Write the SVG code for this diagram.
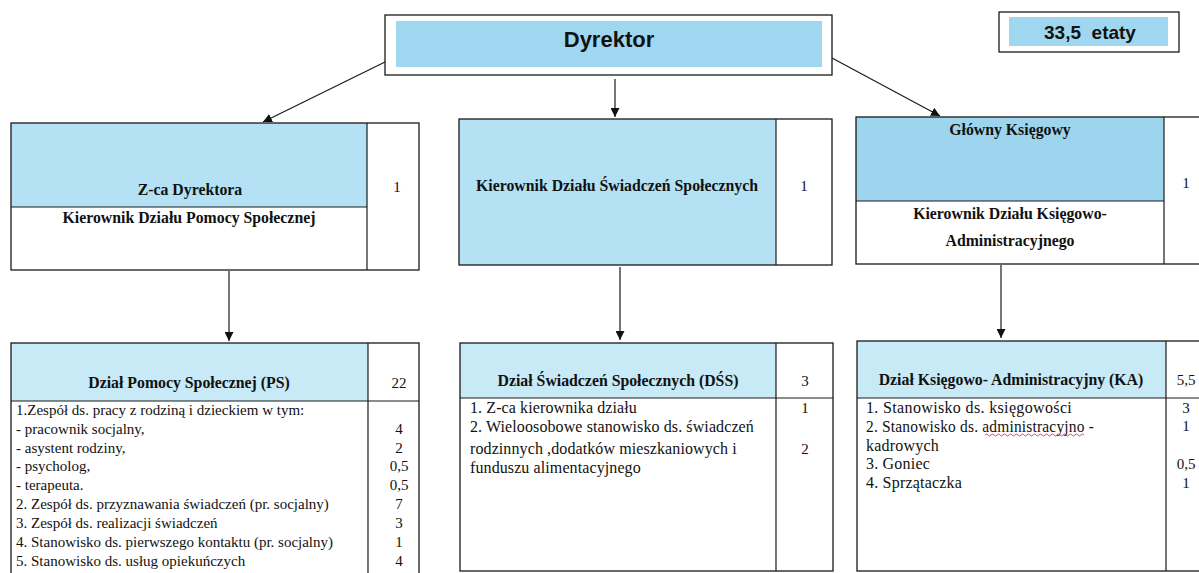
<svg xmlns="http://www.w3.org/2000/svg" width="1199" height="573" viewBox="0 0 1199 573">
<defs>
<style>
.bx{fill:none;stroke:#1a1a1a;stroke-width:1.3}
.ln{stroke:#1a1a1a;stroke-width:1.2;fill:none}
.b1{fill:#9fd7f0}
.b2{fill:#b4e1f4}
.b3{fill:#9dd5ef}
.b4{fill:#c8e9f6}
.t{font-family:"Liberation Serif",serif;font-size:15px;fill:#111}
.tl{font-size:15px}
.tm{font-size:16px;letter-spacing:0.1px}
.tr{font-size:16px;letter-spacing:0.2px}
.tb{font-family:"Liberation Serif",serif;font-size:15.8px;font-weight:bold;fill:#111}
.tc{text-anchor:middle}
.sans{font-family:"Liberation Sans",Arial,sans-serif;font-weight:bold;fill:#111}
.con{stroke:#1a1a1a;stroke-width:1.2;fill:none;marker-end:url(#ah)}
</style>
<marker id="ah" viewBox="0 0 10 10" refX="10" refY="5" markerWidth="9" markerHeight="9" markerUnits="userSpaceOnUse" orient="auto">
<path d="M0,0 L10,5 L0,10 Z" fill="#111"/>
</marker>
</defs>
<rect width="1199" height="573" fill="#fff"/>

<g id="connectors">
<line class="con" x1="385" y1="62" x2="263" y2="122"/>
<line class="con" x1="615" y1="79" x2="615" y2="117"/>
<line class="con" x1="832" y1="58" x2="940" y2="116"/>
<line class="con" x1="229" y1="271" x2="229" y2="341"/>
<line class="con" x1="620" y1="267" x2="620" y2="340"/>
<line class="con" x1="1001" y1="265" x2="1001" y2="338"/>
</g>

<g id="dyrektor">
<rect x="385" y="15" width="447" height="60" fill="#fff" class="bx"/>
<rect x="396" y="21" width="426" height="46" class="b1"/>
<text x="609" y="47" class="sans tc" font-size="22">Dyrektor</text>
</g>

<g id="etaty">
<rect x="999" y="12" width="180" height="40" fill="#fff" class="bx"/>
<rect x="1009" y="17" width="159" height="29" class="b1"/>
<text x="1090" y="39" class="sans tc" font-size="19" style="white-space:pre">33,5  etaty</text>
</g>

<g id="zca-dyrektora">
<rect x="11" y="123" width="356" height="84" class="b2"/>
<rect x="11" y="123" width="408" height="147" class="bx"/>
<line class="ln" x1="11" y1="207" x2="367" y2="207"/>
<line class="ln" x1="367" y1="123" x2="367" y2="270"/>
<text x="190" y="195" class="tb tc">Z-ca Dyrektora</text>
<text x="189" y="223" class="tb tc">Kierownik Działu Pomocy Społecznej</text>
<text x="397" y="192" class="t tc">1</text>
</g>

<g id="kierownik-dss">
<rect x="459" y="119" width="317" height="146" class="b2"/>
<rect x="459" y="119" width="373" height="146" class="bx"/>
<line class="ln" x1="776" y1="119" x2="776" y2="265"/>
<text x="617" y="191" class="tb tc">Kierownik Działu Świadczeń Społecznych</text>
<text x="804" y="191" class="t tc">1</text>
</g>

<g id="glowny-ksiegowy">
<rect x="856" y="117" width="308" height="84" class="b3"/>
<rect x="856" y="117" width="360" height="147" class="bx"/>
<line class="ln" x1="856" y1="201" x2="1164" y2="201"/>
<line class="ln" x1="1164" y1="117" x2="1164" y2="264"/>
<text x="1010" y="135" class="tb tc">Główny Księgowy</text>
<text x="1010" y="219" class="tb tc">Kierownik Działu Księgowo-</text>
<text x="1010" y="246" class="tb tc">Administracyjnego</text>
<text x="1186" y="188" class="t tc">1</text>
</g>

<g id="dzial-ps">
<rect x="11" y="343" width="357" height="58" class="b4"/>
<rect x="11" y="343" width="408" height="250" class="bx"/>
<line class="ln" x1="11" y1="401" x2="419" y2="401"/>
<line class="ln" x1="368" y1="343" x2="368" y2="573"/>
<text x="189" y="388" class="tb tc">Dział Pomocy Społecznej (PS)</text>
<text x="399" y="388" class="t tc">22</text>
<text class="t tl" x="16" y="415">1.Zespół ds. pracy z rodziną i dzieckiem w tym:</text>
<text class="t tl" x="16" y="434">- pracownik socjalny,</text>
<text class="t tl" x="16" y="453">- asystent rodziny,</text>
<text class="t tl" x="16" y="471">- psycholog,</text>
<text class="t tl" x="16" y="490">- terapeuta.</text>
<text class="t tl" x="16" y="509">2. Zespół ds. przyznawania świadczeń (pr. socjalny)</text>
<text class="t tl" x="16" y="528">3. Zespół ds. realizacji świadczeń</text>
<text class="t tl" x="16" y="547">4. Stanowisko ds. pierwszego kontaktu (pr. socjalny)</text>
<text class="t tl" x="16" y="566">5. Stanowisko ds. usług opiekuńczych</text>
<text class="t tc" x="399" y="434">4</text>
<text class="t tc" x="399" y="453">2</text>
<text class="t tc" x="399" y="471">0,5</text>
<text class="t tc" x="399" y="490">0,5</text>
<text class="t tc" x="399" y="509">7</text>
<text class="t tc" x="399" y="528">3</text>
<text class="t tc" x="399" y="547">1</text>
<text class="t tc" x="399" y="566">4</text>
</g>

<g id="dzial-dss">
<rect x="460" y="343" width="316" height="55" class="b4"/>
<rect x="460" y="343" width="373" height="228" class="bx"/>
<line class="ln" x1="460" y1="398" x2="833" y2="398"/>
<line class="ln" x1="776" y1="343" x2="776" y2="571"/>
<text x="618" y="386" class="tb tc">Dział Świadczeń Społecznych (DŚS)</text>
<text x="805" y="386" class="t tc">3</text>
<text class="t tm" x="470" y="413">1. Z-ca kierownika działu</text>
<text class="t tm" x="470" y="432">2. Wieloosobowe stanowisko ds.  świadczeń</text>
<text class="t tm" x="470" y="454">rodzinnych ,dodatków mieszkaniowych i</text>
<text class="t tm" x="470" y="473">funduszu alimentacyjnego</text>
<text class="t tc" x="805" y="413">1</text>
<text class="t tc" x="805" y="454">2</text>
</g>

<g id="dzial-ka">
<rect x="857" y="341" width="309" height="57" class="b4"/>
<rect x="857" y="341" width="360" height="230" class="bx"/>
<line class="ln" x1="857" y1="398" x2="1199" y2="398"/>
<line class="ln" x1="1166" y1="341" x2="1166" y2="571"/>
<text x="1011" y="385" class="tb tc">Dział Księgowo- Administracyjny (KA)</text>
<text x="1186" y="385" class="t tc">5,5</text>
<text class="t tr" x="866" y="413" textLength="206" lengthAdjust="spacing">1. Stanowisko ds. księgowości</text>
<text class="t tr" x="866" y="432" textLength="228" lengthAdjust="spacingAndGlyphs">2. Stanowisko ds. administracyjno -</text>
<path d="M985,435 q1.5,-2 3,0 t3,0 t3,0 t3,0 t3,0 t3,0 t3,0 t3,0 t3,0 t3,0 t3,0 t3,0 t3,0 t3,0 t3,0 t3,0 t3,0 t3,0 t3,0 t3,0 t3,0 t3,0 t3,0 t3,0 t3,0 t3,0 t3,0 t3,0 t3,0 t3,0 t3,0 t3,0 t3,0" fill="none" stroke="#d23" stroke-width="0.8"/>
<text class="t tr" x="866" y="451">kadrowych</text>
<text class="t tr" x="866" y="469">3. Goniec</text>
<text class="t tr" x="866" y="488">4. Sprzątaczka</text>
<text class="t tc" x="1186" y="413">3</text>
<text class="t tc" x="1186" y="431">1</text>
<text class="t tc" x="1186" y="469">0,5</text>
<text class="t tc" x="1186" y="488">1</text>
</g>
</svg>
